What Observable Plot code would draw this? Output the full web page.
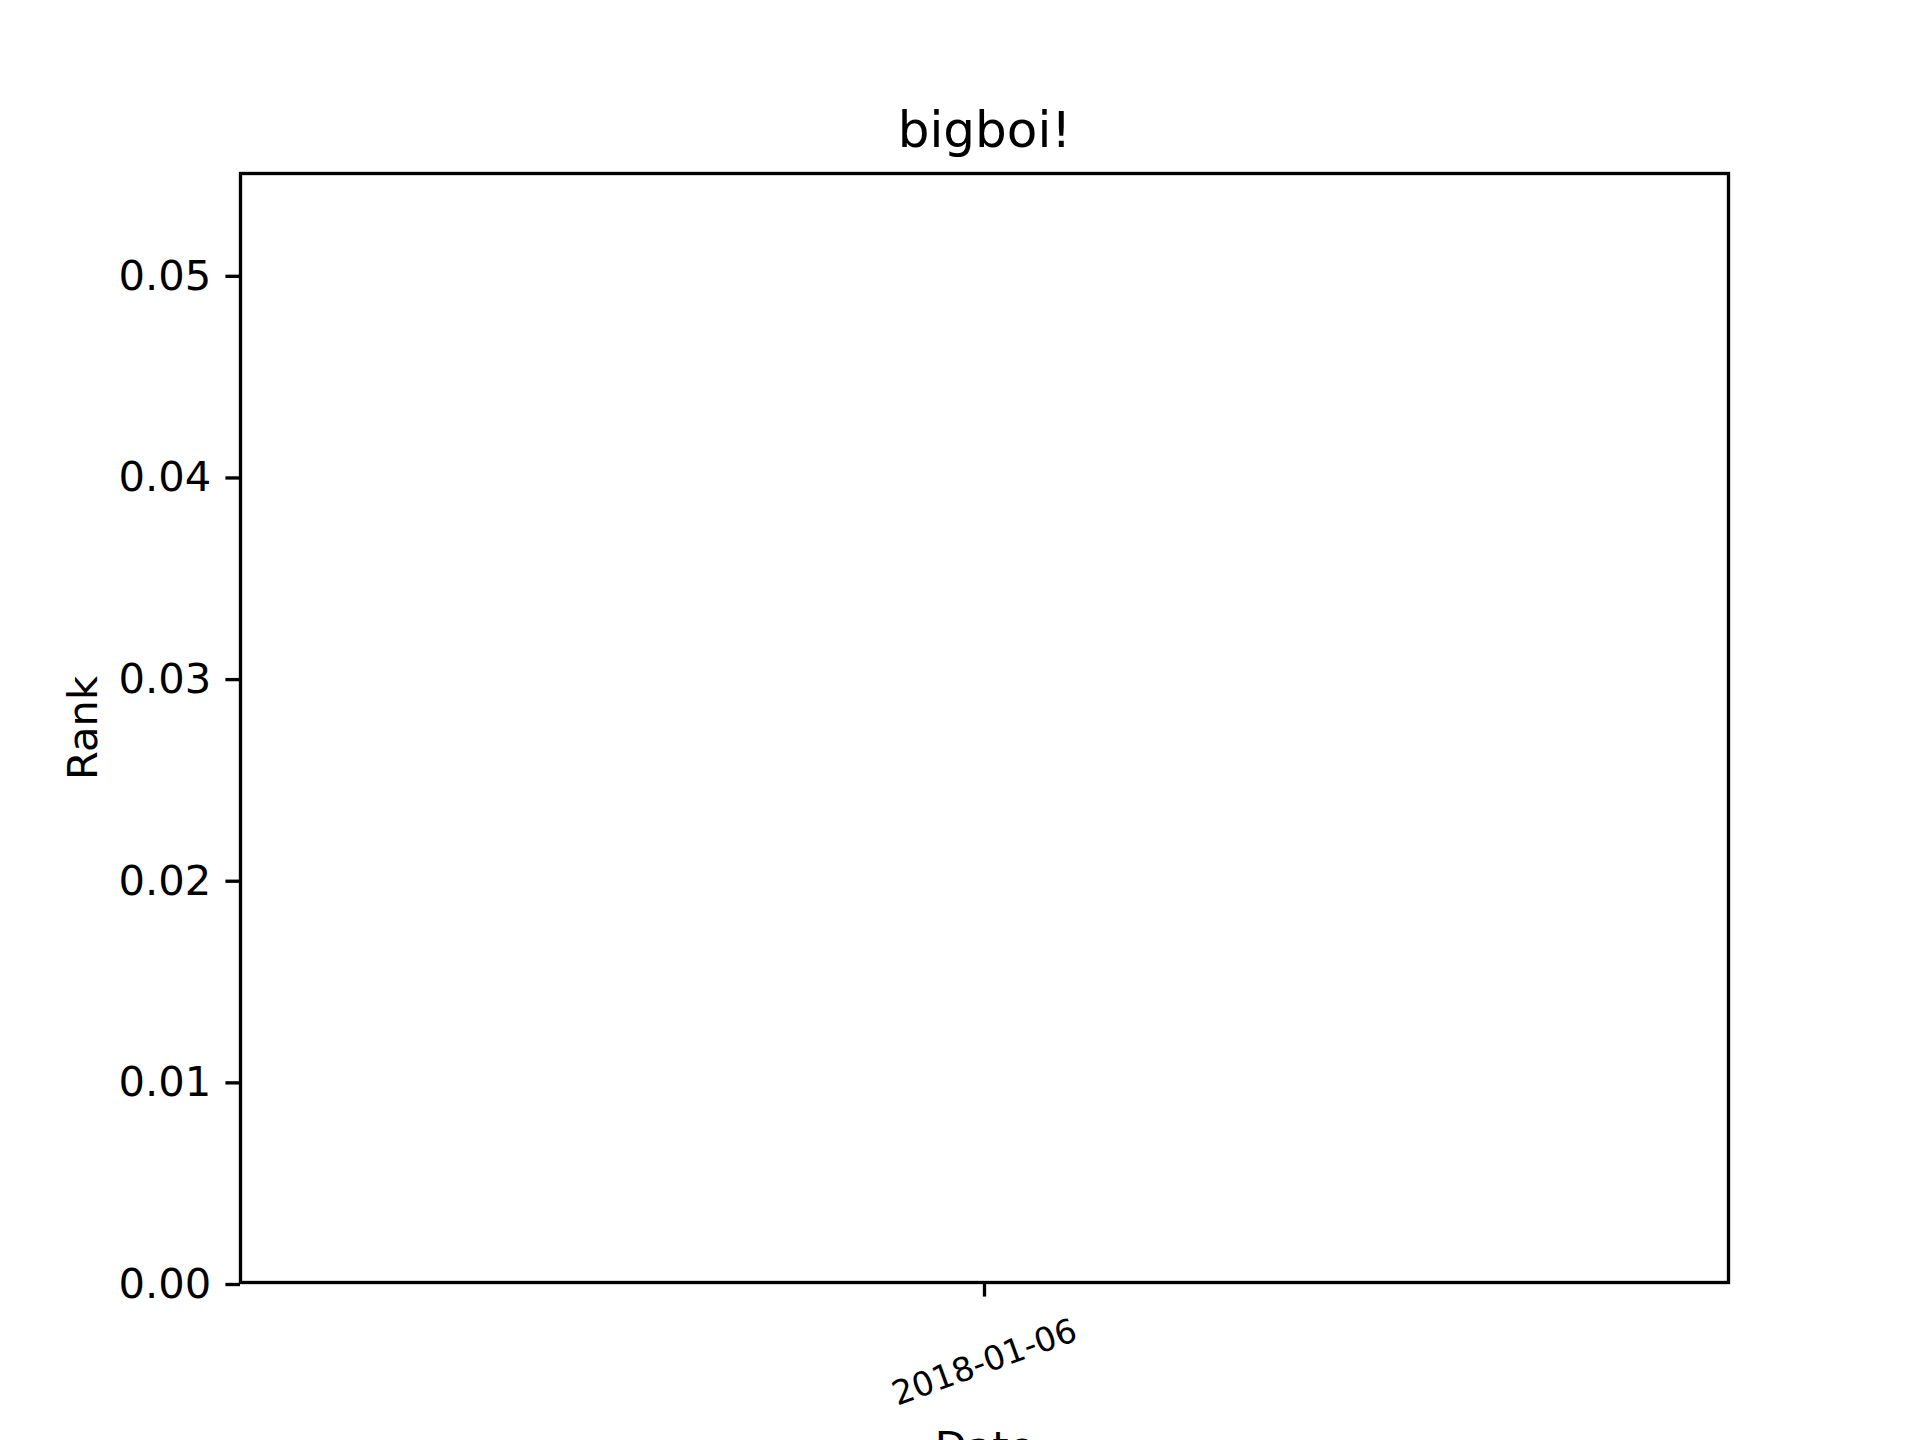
<!DOCTYPE html>
<html>
<head>
<meta charset="utf-8">
<script src="https://cdn.jsdelivr.net/npm/d3@7"></script>
<script src="https://cdn.jsdelivr.net/npm/@observablehq/plot@0.6"></script>
<style>
  html, body { margin: 0; padding: 0; background: white; overflow: hidden; }
  #chart svg { overflow: hidden; display: block; }
</style>
</head>
<body>
<div id="chart"></div>
<script>
// Data (the chart contains no plotted points)
const titleText = "bigboi!";
const xLabel = "Date";
const yLabel = "Rank";
const dates = ["2018-01-06"];          // x tick labels
const ranks = [];                       // no series values visible
const yTicks = [0, 0.01, 0.02, 0.03, 0.04, 0.05];
const xDomain = ["2018-01-05T12:00:00Z", "2018-01-06T12:00:00Z"];
const yDomain = [0, 0.055];

const PT = 300 / 72;
const lw = 0.8 * PT;
const tickLen = 3.5 * PT;
const fs = 10 * PT;

const toDate = d => new Date(Date.UTC(+d.slice(0, 4), +d.slice(5, 7) - 1, +d.slice(8, 10)));

const chart = Plot.plot({
  width: 1920,
  height: 1440,
  marginLeft: 240,
  marginRight: 192,
  marginTop: 173,
  marginBottom: 158,
  style: { fontFamily: "DejaVu Sans", fontSize: fs + "px", background: "white", color: "black" },
  x: { type: "utc", domain: xDomain.map(d => new Date(d)) },
  y: { domain: yDomain },
  marks: [
    Plot.frame({ stroke: "black", strokeWidth: lw }),
    Plot.axisY(yTicks, {
      tickSize: tickLen, tickPadding: tickLen, strokeWidth: lw,
      tickFormat: d3.format(".2f"), fontSize: fs, label: null, dy: 2
    }),
    Plot.axisX(dates.map(toDate), {
      tickSize: tickLen, strokeWidth: lw, fill: "none", label: null
    }),
    Plot.text(dates, {
      x: toDate,
      text: d => d, frameAnchor: "bottom", dy: 80, rotate: -20,
      textAnchor: "middle", lineAnchor: "middle", fontSize: 8 * PT
    }),
    Plot.text([xLabel], {
      text: d => d, frameAnchor: "bottom", dy: 178, lineAnchor: "bottom",
      textAnchor: "middle", fontSize: fs
    }),
    Plot.text([yLabel], {
      text: d => d, frameAnchor: "left", dx: -144, rotate: -90, lineAnchor: "bottom",
      textAnchor: "middle", fontSize: fs
    }),
    Plot.text([titleText], {
      text: d => d, frameAnchor: "top", dy: -26.6, lineAnchor: "bottom",
      textAnchor: "middle", fontSize: 12 * PT
    })
  ]
});
document.getElementById("chart").appendChild(chart);
</script>
</body>
</html>
